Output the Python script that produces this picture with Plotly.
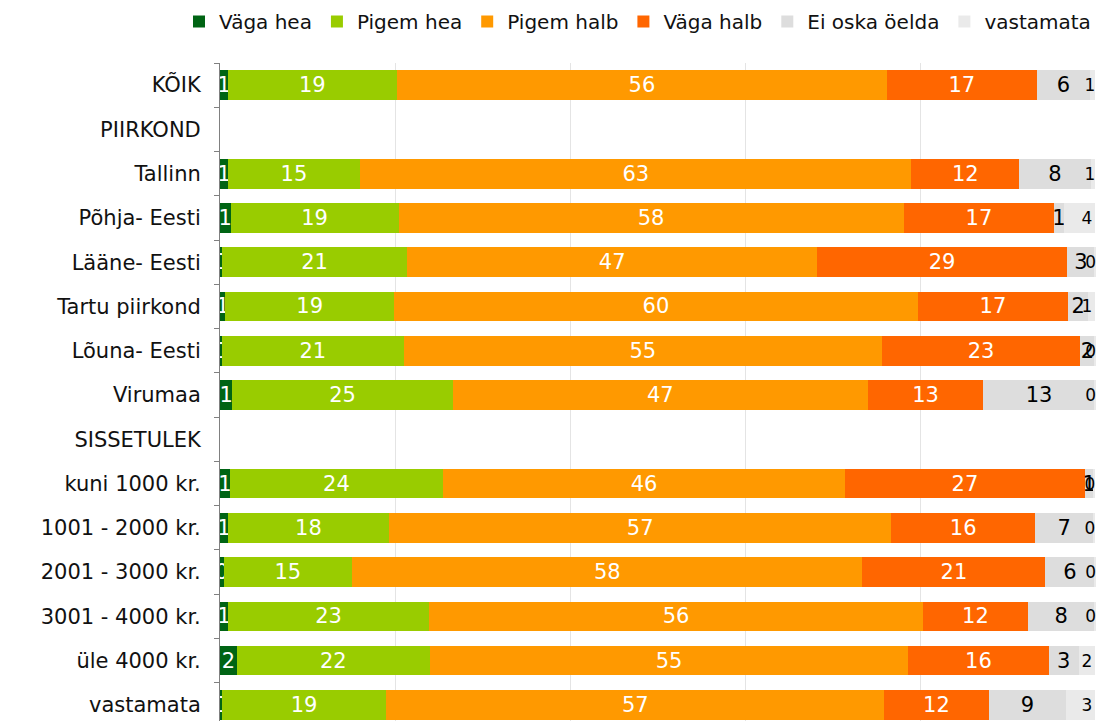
import plotly.graph_objects as go

categories = ["KÕIK", "PIIRKOND", "Tallinn", "Põhja- Eesti", "Lääne- Eesti", "Tartu piirkond",
              "Lõuna- Eesti", "Virumaa", "SISSETULEK", "kuni 1000 kr.", "1001 - 2000 kr.",
              "2001 - 3000 kr.", "3001 - 4000 kr.", "üle 4000 kr.", "vastamata"]

vaga_hea     = [0.9, None, 0.9, 1.2, 0.2, 0.6, 0.2, 1.4, None, 1.1, 0.9, 0.4, 0.9, 1.9, 0.2]
pigem_hea    = [19.3, None, 15.1, 19.2, 21.2, 19.3, 20.8, 25.2, None, 24.4, 18.4, 14.7, 23.0, 22.1, 18.8]
pigem_halb   = [56.0, None, 63.0, 57.7, 46.8, 59.8, 54.6, 47.4, None, 45.9, 57.4, 58.3, 56.4, 54.6, 56.9]
vaga_halb    = [17.1, None, 12.3, 17.2, 28.6, 17.2, 22.7, 13.2, None, 27.4, 16.4, 20.9, 12.0, 16.1, 11.9]
ei_oska      = [6.1, None, 8.2, 1.1, 3.1, 2.3, 1.6, 12.75, None, 1.0, 6.7, 5.6, 7.6, 3.4, 8.9]
vastamata    = [0.6, None, 0.5, 3.6, 0.1, 0.8, 0.1, 0.05, None, 0.2, 0.2, 0.1, 0.1, 1.9, 3.3]

series = [
    ("Väga hea", vaga_hea, "#006414", "white", 21, "middle"),
    ("Pigem hea", pigem_hea, "#99CC00", "white", 21, "middle"),
    ("Pigem halb", pigem_halb, "#FF9900", "white", 21, "middle"),
    ("Väga halb", vaga_halb, "#FF6600", "white", 21, "middle"),
    ("Ei oska öelda", ei_oska, "#DDDDDD", "black", 21, "middle"),
    ("vastamata", vastamata, "#EAEAEA", "black", 17, "end"),
]

FONT = "DejaVu Sans, Verdana, sans-serif"

fig = go.Figure()
for name, vals, color, tcolor, tsize, anchor in series:
    fig.add_trace(go.Bar(
        name=name, y=categories, x=vals, orientation="h",
        marker=dict(color=color, line=dict(width=0)),
        texttemplate="%{x:.0f}", textposition="inside", textangle=0,
        insidetextanchor=anchor, constraintext="none",
        insidetextfont=dict(color=tcolor, size=tsize, family=FONT),
        cliponaxis=False,
        hoverinfo="skip",
    ))

fig.update_layout(
    barmode="stack", bargap=0.33,
    width=1096, height=721,
    margin=dict(l=220, r=0, t=63, b=0),
    plot_bgcolor="white", paper_bgcolor="white",
    font=dict(family=FONT, size=20, color="#111111"),
    legend=dict(orientation="h", x=(184 - 220) / 876, xanchor="left",
                y=(721 - 2) / 658, yanchor="top", yref="paper",
                font=dict(size=20, family=FONT, color="#111111"),
                itemwidth=30, traceorder="normal", bgcolor="rgba(0,0,0,0)"),
    showlegend=True,
)

fig.update_xaxes(range=[0, 100.08], dtick=20, showgrid=True, gridcolor="#E4E4E4", gridwidth=1,
                 zeroline=False, showticklabels=False, ticks="", showline=False, fixedrange=True)
fig.update_yaxes(type="category", categoryorder="array", categoryarray=categories,
                 range=[14.5 - 6 / 44.27, -0.5], showline=True, linecolor="#808080", linewidth=1,
                 ticks="outside", tickson="boundaries", ticklen=5, tickcolor="#808080",
                 ticklabelstandoff=14, showgrid=False, tickfont=dict(size=21, family=FONT, color="#111111"))

fig.write_html("out.html", config={"displayModeBar": False},
               post_script="document.body.style.margin='0';document.body.style.overflow='hidden';")
